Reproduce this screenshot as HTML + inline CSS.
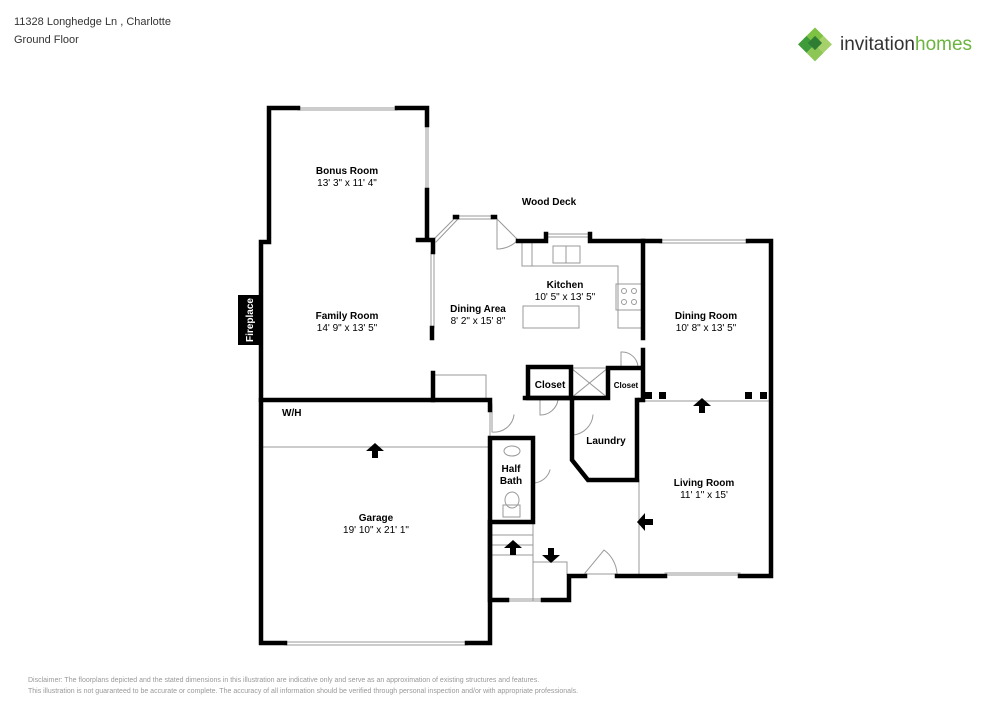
<!DOCTYPE html>
<html><head><meta charset="utf-8"><style>
html,body{margin:0;padding:0;background:#fff;}
svg{display:block;font-family:"Liberation Sans",Arial,sans-serif;}
</style></head><body>
<svg width="1000" height="707" viewBox="0 0 1000 707" xmlns="http://www.w3.org/2000/svg">
<text x="14" y="25" font-size="11" fill="#333">11328 Longhedge Ln , Charlotte</text>
<text x="14" y="43" font-size="11" fill="#333">Ground Floor</text>
<!-- logo -->
<g transform="translate(815,43) rotate(45)">
<rect x="-11" y="-11" width="12" height="12" fill="#7dc242"/>
<rect x="1" y="-11" width="12" height="12" fill="#a6d06a"/>
<rect x="-11" y="1" width="12" height="12" fill="#3f9a3a"/>
<rect x="1" y="1" width="12" height="12" fill="#8cc655"/>
<rect x="-5" y="-5" width="10" height="10" fill="#2e7d32"/>
</g>
<text x="840" y="50" font-size="19" fill="#333">invitation<tspan fill="#6cb33f">homes</tspan></text>

<g fill="none" stroke-linecap="square">
<!-- thin lines -->
<g stroke="#999" stroke-width="1">
<line x1="298" y1="108" x2="397" y2="108"/><line x1="298" y1="110" x2="397" y2="110"/>
<line x1="426" y1="125" x2="426" y2="190"/><line x1="428" y1="125" x2="428" y2="190"/>
<line x1="431" y1="252" x2="431" y2="328"/><line x1="434" y1="252" x2="434" y2="328"/>
<line x1="433" y1="240" x2="456" y2="217"/><line x1="436" y1="242" x2="458" y2="219"/>
<line x1="455" y1="216" x2="495" y2="216"/><line x1="455" y1="219" x2="495" y2="219"/>
<line x1="495" y1="217" x2="518" y2="240"/>
<path d="M497,219 L497,249 A30,30 0 0 0 518,240"/>
<line x1="546" y1="234" x2="590" y2="234"/><line x1="546" y1="237" x2="590" y2="237"/>
<line x1="660" y1="240" x2="748" y2="240"/><line x1="660" y1="243" x2="748" y2="243"/>
<!-- kitchen counters -->
<path d="M522,243 L522,266 L618,266 L618,328 L643,328"/>
<path d="M532,243 L532,266"/>
<rect x="553" y="246" width="27" height="17"/>
<line x1="566" y1="246" x2="566" y2="263"/>
<rect x="616" y="284" width="27" height="26"/>
<circle cx="624" cy="291" r="2.5"/><circle cx="634" cy="291" r="2.5"/>
<circle cx="624" cy="302" r="2.5"/><circle cx="634" cy="302" r="2.5"/>
<rect x="523" y="306" width="56" height="22"/>
<!-- family room thin box -->
<path d="M433,375 L486,375 L486,400"/>
<!-- X box -->
<rect x="571" y="368" width="37" height="30"/>
<line x1="571" y1="368" x2="608" y2="398"/><line x1="608" y1="368" x2="571" y2="398"/>
<path d="M621,368 L621,352 A16,16 0 0 1 638,368"/>
<line x1="643" y1="401" x2="771" y2="401"/>
<!-- door swings -->
<path d="M540,400 L540,415 A18,18 0 0 0 558,400"/>
<path d="M573,402 L573,435 A22,22 0 0 0 593,415"/>
<path d="M492,404 L492,432 A20,20 0 0 0 514,415"/>
<path d="M534,458 L534,483 A18,18 0 0 0 550,470"/>
<line x1="639" y1="480" x2="639" y2="574"/>
<path d="M585,574 L617,574 M617,573 A32,32 0 0 0 604,550 L585,573"/>
<line x1="665" y1="573" x2="740" y2="573"/><line x1="665" y1="575" x2="740" y2="575"/>
<!-- stairs -->
<line x1="490" y1="535" x2="533" y2="535"/><line x1="490" y1="545" x2="533" y2="545"/>
<line x1="490" y1="555" x2="533" y2="555"/><line x1="533" y1="522" x2="533" y2="600"/>
<path d="M533,562 L567,562 L567,574"/>
<line x1="507" y1="599" x2="543" y2="599"/><line x1="507" y1="601" x2="543" y2="601"/>
<!-- garage -->
<line x1="261" y1="447" x2="490" y2="447"/>
<line x1="285" y1="642" x2="467" y2="642"/><line x1="285" y1="645" x2="467" y2="645"/>
<line x1="490" y1="410" x2="490" y2="438"/>
<!-- sink & toilet -->
<ellipse cx="512" cy="451" rx="8" ry="5"/>
<ellipse cx="512" cy="500" rx="7" ry="8"/>
<rect x="503" y="505" width="17" height="12"/>
</g>
<!-- thick walls -->
<g stroke="#000" stroke-width="4.5">
<path d="M298,108 L269,108 L269,242 L261,242 L261,643 L285,643"/>
<path d="M397,108 L427,108 L427,125 M427,190 L427,240 L418,240 M427,240 L433,240 L433,252"/>
<path d="M432,328 L432,338"/>
<path d="M518,241 L546,241 L546,234 M590,234 L590,241 L660,241 M748,241 L771,241 L771,576 L740,576"/>
<path d="M665,576 L617,576"/>
<path d="M585,576 L569,576 L569,600 L543,600 M507,600 L490,600 L490,522"/>
<path d="M643,241 L643,338"/>
<path d="M467,643 L490,643 L490,438 L533,438 L533,522 L490,522"/>
<path d="M261,400 L490,400 L490,410"/>
<path d="M433,373 L433,400"/>
<rect x="528" y="367" width="43" height="31"/>
<path d="M608,368 L643,368 L643,350 M643,368 L643,400 L640,400 M608,368 L608,398 L525,398"/>
<path d="M572,400 L572,460 L588,480 L637,480 L637,400"/>
<path d="M455,217 L457,217 M493,217 L495,217"/>
</g>
</g>
<g fill="#000">
<rect x="645" y="392" width="7" height="7"/><rect x="659" y="392" width="7" height="7"/>
<rect x="745" y="392" width="7" height="7"/><rect x="760" y="392" width="7" height="7"/>
<rect x="238" y="295" width="23" height="50"/>
<!-- arrows -->
<path d="M375,443 L384,451 L378,451 L378,458 L372,458 L372,451 L366,451 Z"/>
<path d="M702,398 L711,406 L705,406 L705,413 L699,413 L699,406 L693,406 Z"/>
<path d="M513,540 L522,548 L516,548 L516,555 L510,555 L510,548 L504,548 Z"/>
<path d="M551,563 L560,555 L554,555 L554,548 L548,548 L548,555 L542,555 Z"/>
<path d="M637,522 L645,513 L645,519 L653,519 L653,525 L645,525 L645,531 Z"/>
</g>
<text transform="translate(253,320) rotate(-90)" text-anchor="middle" font-size="10" font-weight="bold" fill="#fff">Fireplace</text>
<g font-size="10" text-anchor="middle" fill="#000">
<text x="347" y="174" font-weight="bold">Bonus Room</text><text x="347" y="186">13' 3" x 11' 4"</text>
<text x="347" y="319" font-weight="bold">Family Room</text><text x="347" y="331">14' 9" x 13' 5"</text>
<text x="478" y="312" font-weight="bold">Dining Area</text><text x="478" y="324">8' 2" x 15' 8"</text>
<text x="549" y="205" font-weight="bold">Wood Deck</text>
<text x="565" y="288" font-weight="bold">Kitchen</text><text x="565" y="300">10' 5" x 13' 5"</text>
<text x="706" y="319" font-weight="bold">Dining Room</text><text x="706" y="331">10' 8" x 13' 5"</text>
<text x="550" y="388" font-weight="bold">Closet</text>
<text x="626" y="388" font-weight="bold" font-size="8">Closet</text>
<text x="606" y="444" font-weight="bold">Laundry</text>
<text x="511" y="472" font-weight="bold">Half</text><text x="511" y="484" font-weight="bold">Bath</text>
<text x="704" y="486" font-weight="bold">Living Room</text><text x="704" y="498">11' 1" x 15'</text>
<text x="376" y="521" font-weight="bold">Garage</text><text x="376" y="533">19' 10" x 21' 1"</text>
<text x="282" y="416" font-weight="bold" text-anchor="start" x="272">W/H</text>
</g>
<g font-size="7" fill="#999">
<text x="28" y="682">Disclaimer: The floorplans depicted and the stated dimensions in this illustration are indicative only and serve as an approximation of existing structures and features.</text>
<text x="28" y="693">This illustration is not guaranteed to be accurate or complete. The accuracy of all information should be verified through personal inspection and/or with appropriate professionals.</text>
</g>
</svg>
</body></html>
